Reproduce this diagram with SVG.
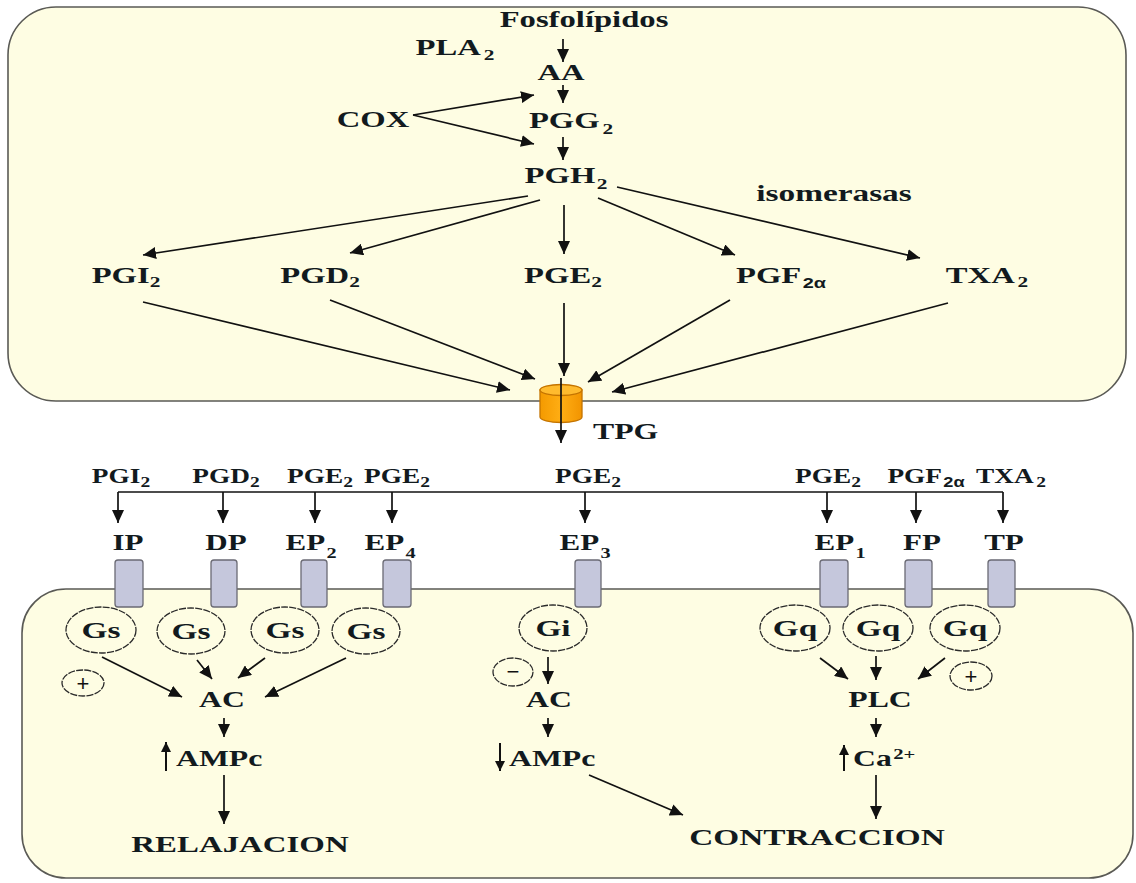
<svg xmlns="http://www.w3.org/2000/svg" width="1136" height="883" viewBox="0 0 1136 883">
  <defs>
    <style>
      .t { font-family: "Liberation Serif", "Times New Roman", serif; font-weight: bold; font-size: 23px; fill: #121a1e; text-anchor: middle; }
      .s { font-size: 21px; }
      .sub { font-size: 15px; }
      .subr { font-size: 15px; }
      .alpha { font-family: "Liberation Sans", Arial, sans-serif; font-size: 14px; }
      .sign { font-family: "Liberation Sans", Arial, sans-serif; font-size: 22px; fill: #111; text-anchor: middle; }
      .cell { fill: #fefde3; stroke: #5a5a55; stroke-width: 1.6; }
      .rec { fill: #c5c7dc; stroke: #6a6a74; stroke-width: 1.3; }
      .gp { fill: none; stroke: #2a2a2a; stroke-width: 1.3; stroke-dasharray: 7 1.2; }
      .ln { stroke: #111; stroke-width: 1.7; fill: none; marker-end: url(#ah); }
      .lns { stroke: #111; stroke-width: 2; fill: none; marker-end: url(#ahs); }
      .bar { stroke: #111; stroke-width: 1.6; fill: none; }
    </style>
    <marker id="ah" markerUnits="userSpaceOnUse" markerWidth="13" markerHeight="12" refX="13" refY="6" orient="auto">
      <path d="M0,0 L13,6 L0,12 Z" fill="#111"/>
    </marker>
    <marker id="ahs" markerUnits="userSpaceOnUse" markerWidth="10" markerHeight="10" refX="10" refY="5" orient="auto">
      <path d="M0,0 L10,5 L0,10 Z" fill="#111"/>
    </marker>
    <linearGradient id="cyl" x1="0" y1="0" x2="1" y2="0">
      <stop offset="0" stop-color="#f49a00"/>
      <stop offset="0.5" stop-color="#ffae14"/>
      <stop offset="1" stop-color="#f29400"/>
    </linearGradient>
  </defs>

  <!-- cell compartments -->
  <rect class="cell" x="8" y="7" width="1118" height="394" rx="48" ry="48"/>
  <rect class="cell" x="22" y="589" width="1111" height="289" rx="44" ry="44"/>

  <!-- synthesis pathway -->
  <g id="fosfolipidos"><text class="t" transform="translate(584,27) scale(1.42,1)">Fosfolípidos</text></g>
  <g id="pla2"><text class="t" transform="translate(455,55) scale(1.42,1)">PLA<tspan class="sub" dx="2" dy="5">2</tspan></text></g>
  <g id="aa"><text class="t" transform="translate(561,80) scale(1.42,1)">AA</text></g>
  <g id="cox"><text class="t" transform="translate(373,127) scale(1.42,1)">COX</text></g>
  <g id="pgg2"><text class="t" transform="translate(571,128) scale(1.42,1)">PGG<tspan class="sub" dx="2" dy="6">2</tspan></text></g>
  <g id="pgh2"><text class="t" transform="translate(566,183) scale(1.42,1)">PGH<tspan class="sub" dx="1" dy="6">2</tspan></text></g>
  <g id="isomerasas"><text class="t" transform="translate(834,201) scale(1.45,1)">isomerasas</text></g>

  <g id="pgi2-a"><text class="t" transform="translate(126,283) scale(1.42,1)">PGI<tspan class="sub" dy="4">2</tspan></text></g>
  <g id="pgd2-a"><text class="t" transform="translate(320,283) scale(1.42,1)">PGD<tspan class="sub" dy="4">2</tspan></text></g>
  <g id="pge2-a"><text class="t" transform="translate(563,283) scale(1.42,1)">PGE<tspan class="sub" dy="4">2</tspan></text></g>
  <g id="pgf2a-a"><text class="t" transform="translate(781,283) scale(1.42,1)">PGF<tspan class="alpha" dx="1" dy="5">2α</tspan></text></g>
  <g id="txa2-a"><text class="t" transform="translate(987,283) scale(1.42,1)">TXA<tspan class="sub" dx="2" dy="4">2</tspan></text></g>

  <!-- transporter -->
  <g id="tpg">
    <path d="M540,390 L540,417 A21,5.5 0 0 0 582,417 L582,390 Z" fill="url(#cyl)" stroke="#c47400" stroke-width="1.3"/>
    <ellipse cx="561" cy="390" rx="21" ry="5.5" fill="#ffbb2e" stroke="#c47400" stroke-width="1.3"/>
    <text class="t" style="text-anchor:start" transform="translate(593,439) scale(1.38,1)">TPG</text>
  </g>

  <!-- ligands at the receptors -->
  <g id="pgi2-b"><text class="t s" transform="translate(121,483) scale(1.3,1)">PGI<tspan class="sub" dy="4">2</tspan></text></g>
  <g id="pgd2-b"><text class="t s" transform="translate(226,483) scale(1.3,1)">PGD<tspan class="sub" dy="4">2</tspan></text></g>
  <g id="pge2-b1"><text class="t s" transform="translate(320,483) scale(1.3,1)">PGE<tspan class="sub" dy="4">2</tspan></text></g>
  <g id="pge2-b2"><text class="t s" transform="translate(397,483) scale(1.3,1)">PGE<tspan class="sub" dy="4">2</tspan></text></g>
  <g id="pge2-b3"><text class="t s" transform="translate(588,483) scale(1.3,1)">PGE<tspan class="sub" dy="4">2</tspan></text></g>
  <g id="pge2-b4"><text class="t s" transform="translate(828,483) scale(1.3,1)">PGE<tspan class="sub" dy="4">2</tspan></text></g>
  <g id="pgf2a-b"><text class="t s" transform="translate(926,483) scale(1.3,1)">PGF<tspan class="alpha" dx="1" dy="4">2α</tspan></text></g>
  <g id="txa2-b"><text class="t s" transform="translate(1011,483) scale(1.3,1)">TXA<tspan class="sub" dx="2" dy="4">2</tspan></text></g>

  <!-- receptors -->
  <g id="ip"><rect class="rec" x="115" y="560" width="28" height="47" rx="3"/><text class="t" transform="translate(128,550) scale(1.35,1)">IP</text></g>
  <g id="dp"><rect class="rec" x="211" y="560" width="26" height="47" rx="3"/><text class="t" transform="translate(226,550) scale(1.35,1)">DP</text></g>
  <g id="ep2"><rect class="rec" x="301" y="560" width="26" height="47" rx="3"/><text class="t" transform="translate(311,550) scale(1.35,1)">EP<tspan class="subr" dx="1" dy="8">2</tspan></text></g>
  <g id="ep4"><rect class="rec" x="383" y="560" width="28" height="47" rx="3"/><text class="t" transform="translate(390,550) scale(1.35,1)">EP<tspan class="subr" dx="1" dy="8">4</tspan></text></g>
  <g id="ep3"><rect class="rec" x="575" y="560" width="26" height="47" rx="3"/><text class="t" transform="translate(585,550) scale(1.35,1)">EP<tspan class="subr" dx="1" dy="8">3</tspan></text></g>
  <g id="ep1"><rect class="rec" x="820" y="560" width="28" height="47" rx="3"/><text class="t" transform="translate(840,550) scale(1.35,1)">EP<tspan class="subr" dx="1" dy="8">1</tspan></text></g>
  <g id="fp"><rect class="rec" x="905" y="560" width="27" height="47" rx="3"/><text class="t" transform="translate(922,550) scale(1.35,1)">FP</text></g>
  <g id="tp"><rect class="rec" x="988" y="560" width="27" height="47" rx="3"/><text class="t" transform="translate(1004,550) scale(1.35,1)">TP</text></g>

  <!-- G proteins -->
  <g id="gs1"><ellipse class="gp" cx="101" cy="630" rx="35" ry="23"/><text class="t" transform="translate(101,638) scale(1.45,1)">Gs</text></g>
  <g id="gs2"><ellipse class="gp" cx="191" cy="631" rx="34" ry="23"/><text class="t" transform="translate(191,639) scale(1.45,1)">Gs</text></g>
  <g id="gs3"><ellipse class="gp" cx="285" cy="630" rx="34" ry="23"/><text class="t" transform="translate(285,638) scale(1.45,1)">Gs</text></g>
  <g id="gs4"><ellipse class="gp" cx="366" cy="631" rx="34" ry="23"/><text class="t" transform="translate(366,639) scale(1.45,1)">Gs</text></g>
  <g id="gi"><ellipse class="gp" cx="553" cy="628" rx="34" ry="23"/><text class="t" transform="translate(553,636) scale(1.45,1)">Gi</text></g>
  <g id="gq1"><ellipse class="gp" cx="795" cy="628" rx="35" ry="23"/><text class="t" transform="translate(795,636) scale(1.45,1)">Gq</text></g>
  <g id="gq2"><ellipse class="gp" cx="878" cy="628" rx="35" ry="23"/><text class="t" transform="translate(878,636) scale(1.45,1)">Gq</text></g>
  <g id="gq3"><ellipse class="gp" cx="965" cy="628" rx="35" ry="23"/><text class="t" transform="translate(965,636) scale(1.45,1)">Gq</text></g>

  <!-- signs -->
  <g id="plus-left"><ellipse class="gp" cx="83" cy="683" rx="21" ry="13"/><text class="sign" x="83" y="691">+</text></g>
  <g id="minus"><ellipse class="gp" cx="513" cy="672" rx="20" ry="14"/><text class="sign" x="513" y="679">−</text></g>
  <g id="plus-right"><ellipse class="gp" cx="971" cy="676" rx="21" ry="14"/><text class="sign" x="971" y="684">+</text></g>

  <!-- effectors and responses -->
  <g id="ac-left"><text class="t" transform="translate(222,707) scale(1.38,1)">AC</text></g>
  <g id="ampc-up"><text class="t" style="text-anchor:start" transform="translate(176,766) scale(1.38,1)">AMPc</text></g>
  <g id="relajacion"><text class="t" transform="translate(240,852) scale(1.43,1)">RELAJACION</text></g>
  <g id="ac-mid"><text class="t" transform="translate(549,707) scale(1.38,1)">AC</text></g>
  <g id="ampc-down"><text class="t" style="text-anchor:start" transform="translate(509,766) scale(1.38,1)">AMPc</text></g>
  <g id="plc"><text class="t" transform="translate(880,707) scale(1.38,1)">PLC</text></g>
  <g id="ca"><text class="t" style="text-anchor:start" transform="translate(853,766) scale(1.38,1)">Ca<tspan class="sub" dx="1" dy="-7">2+</tspan></text></g>
  <g id="contraccion"><text class="t" transform="translate(817,845) scale(1.45,1)">CONTRACCION</text></g>

  <!-- connectors -->
  <g id="connectors">
    <line class="ln" x1="563" y1="39" x2="563" y2="62"/>
    <line class="ln" x1="563" y1="85" x2="563" y2="103"/>
    <line class="ln" x1="413" y1="115" x2="534" y2="95"/>
    <line class="ln" x1="413" y1="115" x2="534" y2="144"/>
    <line class="ln" x1="563" y1="137" x2="563" y2="160"/>

    <line class="ln" x1="528" y1="196" x2="143" y2="255"/>
    <line class="ln" x1="540" y1="200" x2="350" y2="253"/>
    <line class="ln" x1="564" y1="205" x2="564" y2="254"/>
    <line class="ln" x1="598" y1="198" x2="735" y2="255"/>
    <line class="ln" x1="617" y1="187" x2="920" y2="258"/>

    <line class="ln" x1="143" y1="302" x2="510" y2="390"/>
    <line class="ln" x1="330" y1="300" x2="535" y2="379"/>
    <line class="ln" x1="564" y1="303" x2="564" y2="376"/>
    <line class="ln" x1="730" y1="300" x2="588" y2="382"/>
    <line class="ln" x1="948" y1="303" x2="612" y2="392"/>

    <line class="ln" x1="561" y1="378" x2="561" y2="443"/>

    <line class="bar" x1="118" y1="492" x2="1003" y2="492"/>
    <line class="ln" x1="118" y1="492" x2="118" y2="523"/>
    <line class="ln" x1="223" y1="492" x2="223" y2="523"/>
    <line class="ln" x1="315" y1="492" x2="315" y2="523"/>
    <line class="ln" x1="392" y1="492" x2="392" y2="523"/>
    <line class="ln" x1="585" y1="492" x2="585" y2="523"/>
    <line class="ln" x1="827" y1="492" x2="827" y2="523"/>
    <line class="ln" x1="916" y1="492" x2="916" y2="523"/>
    <line class="ln" x1="1003" y1="492" x2="1003" y2="523"/>

    <line class="ln" x1="102" y1="657" x2="182" y2="697"/>
    <line class="ln" x1="197" y1="660" x2="212" y2="679"/>
    <line class="ln" x1="265" y1="658" x2="238" y2="678"/>
    <line class="ln" x1="346" y1="658" x2="265" y2="697"/>
    <line class="ln" x1="224" y1="718" x2="224" y2="737"/>
    <line class="lns" x1="166" y1="771" x2="166" y2="742"/>
    <line class="ln" x1="224" y1="775" x2="224" y2="824"/>

    <line class="ln" x1="548" y1="657" x2="548" y2="684"/>
    <line class="ln" x1="548" y1="718" x2="548" y2="737"/>
    <line class="lns" x1="500" y1="743" x2="500" y2="771"/>
    <line class="ln" x1="589" y1="775" x2="683" y2="815"/>

    <line class="ln" x1="820" y1="658" x2="848" y2="679"/>
    <line class="ln" x1="876" y1="656" x2="876" y2="680"/>
    <line class="ln" x1="945" y1="658" x2="918" y2="679"/>
    <line class="ln" x1="876" y1="718" x2="876" y2="737"/>
    <line class="lns" x1="844" y1="771" x2="844" y2="745"/>
    <line class="ln" x1="876" y1="775" x2="876" y2="819"/>
  </g>
</svg>
